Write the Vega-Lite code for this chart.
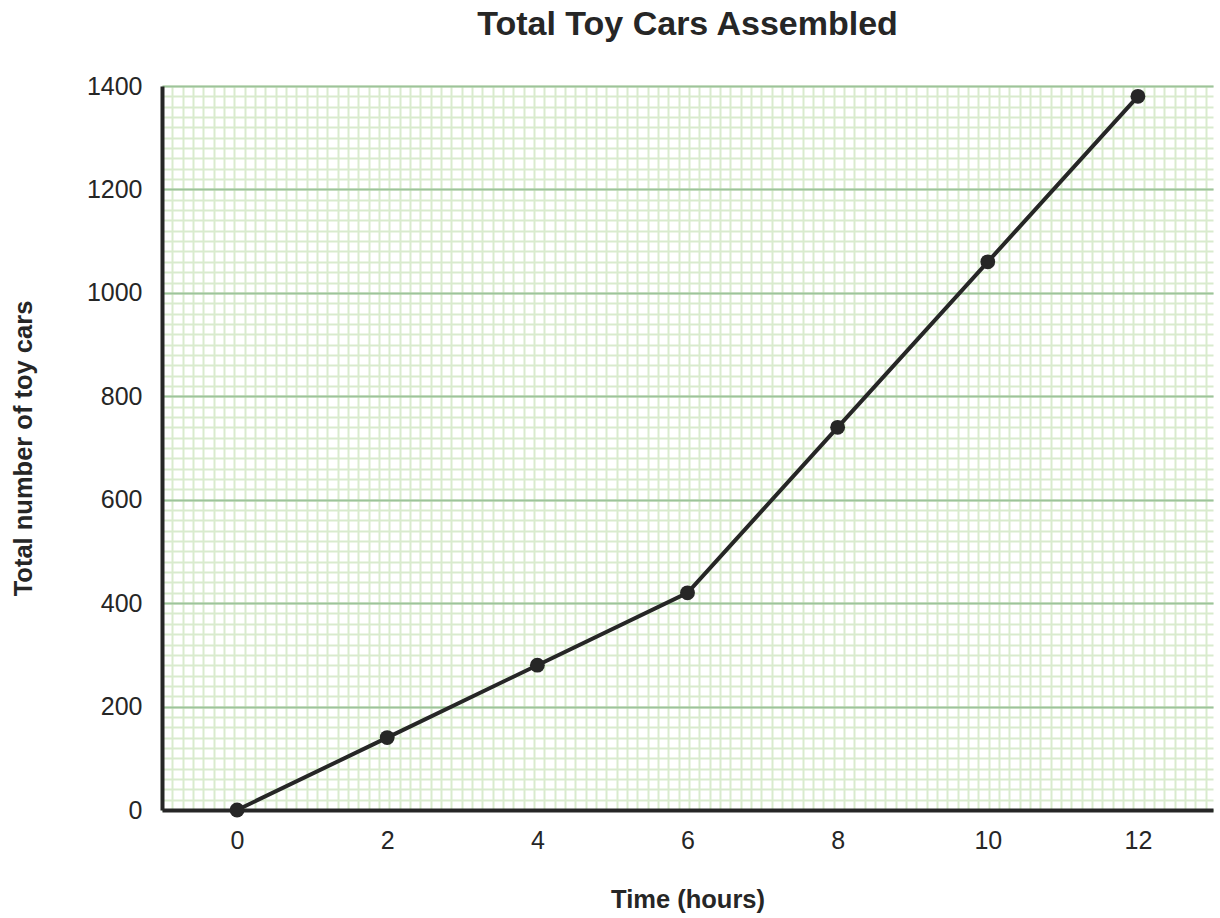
{
  "$schema": "https://vega.github.io/schema/vega-lite/v6.json",
  "width": 1051,
  "height": 724,
  "autosize": "none",
  "padding": {"left": 162, "top": 86, "right": 7, "bottom": 108},
  "background": "white",
  "title": {
    "text": "Total Toy Cars Assembled",
    "font": "Liberation Sans",
    "fontSize": 34,
    "fontWeight": "bold",
    "color": "#262626",
    "anchor": "middle",
    "offset": 32
  },
  "data": {
    "values": [
      {"hours": 0, "cars": 0},
      {"hours": 2, "cars": 140},
      {"hours": 4, "cars": 280},
      {"hours": 6, "cars": 420},
      {"hours": 8, "cars": 740},
      {"hours": 10, "cars": 1060},
      {"hours": 12, "cars": 1380}
    ]
  },
  "config": {
    "view": {"stroke": null},
    "axis": {
      "labelFont": "Liberation Sans",
      "titleFont": "Liberation Sans",
      "labelColor": "#262626",
      "titleColor": "#262626"
    }
  },
  "layer": [
    {
      "mark": {"type": "point", "opacity": 0},
      "encoding": {
        "x": {
          "field": "hours",
          "type": "quantitative",
          "scale": {"domain": [0, 101.7], "nice": false, "zero": false},
          "axis": {
            "orient": "top",
            "grid": true,
            "tickCount": 102,
            "gridColor": "#d9ebce",
            "gridWidth": 2,
            "labels": false,
            "ticks": false,
            "domain": false,
            "title": null
          }
        },
        "y": {
          "field": "cars",
          "type": "quantitative",
          "scale": {"domain": [0, 1400], "nice": false},
          "axis": {
            "orient": "right",
            "grid": true,
            "tickCount": 70,
            "gridColor": "#d9ebce",
            "gridWidth": 2,
            "labels": false,
            "ticks": false,
            "domain": false,
            "title": null
          }
        }
      }
    },
    {
      "mark": {
        "type": "line",
        "color": "#262626",
        "strokeWidth": 4,
        "point": {"filled": true, "size": 220, "color": "#262626", "opacity": 1}
      },
      "encoding": {
        "x": {
          "field": "hours",
          "type": "quantitative",
          "scale": {"domain": [-1, 13], "nice": false, "zero": false},
          "axis": {
            "orient": "bottom",
            "values": [0, 2, 4, 6, 8, 10, 12],
            "grid": false,
            "ticks": false,
            "domainColor": "#262626",
            "domainWidth": 4,
            "labelFontSize": 25,
            "labelPadding": 18,
            "title": "Time (hours)",
            "titleFontSize": 25.5,
            "titleFontWeight": "bold",
            "titlePadding": 34
          }
        },
        "y": {
          "field": "cars",
          "type": "quantitative",
          "scale": {"domain": [0, 1400], "nice": false},
          "axis": {
            "orient": "left",
            "values": [0, 200, 400, 600, 800, 1000, 1200, 1400],
            "format": "d",
            "grid": true,
            "gridColor": "#9dc49a",
            "gridWidth": 2,
            "ticks": false,
            "domainColor": "#262626",
            "domainWidth": 4,
            "labelFontSize": 25,
            "labelPadding": 20,
            "title": "Total number of toy cars",
            "titleFontSize": 25.5,
            "titleFontWeight": "bold",
            "titlePadding": 50
          }
        }
      }
    }
  ],
  "resolve": {
    "scale": {"x": "independent"},
    "axis": {"x": "independent", "y": "independent"}
  }
}
